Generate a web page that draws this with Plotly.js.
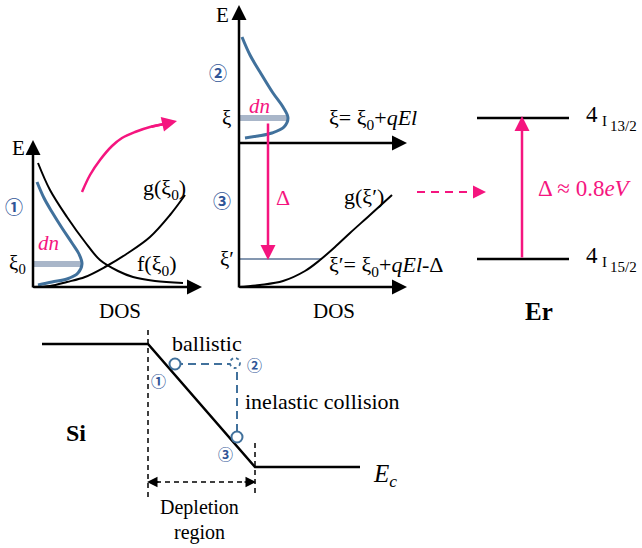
<!DOCTYPE html>
<html><head><meta charset="utf-8">
<script src="https://cdn.plot.ly/plotly-3.0.1.min.js"></script>
<style>body{margin:0;background:#fff}#c{width:642px;height:548px}</style>
</head><body><div id="c"></div>
<script>
// ---- data (diagram coordinates, pixels of a 642x548 canvas, y downward) ----
const f0X = [38, 50, 67, 85, 100, 118, 133, 155, 183];
const f0Y = [163, 190, 217, 242, 260, 271, 277, 281, 283];
const g0X = [33, 50, 67, 85, 105, 128, 150, 170, 185];
const g0Y = [287, 286, 282, 277, 267, 253, 237, 215, 195];
const dn1X = [37, 44, 52, 62, 72, 79, 82, 78, 67, 52, 38];
const dn1Y = [182, 198, 212, 228, 243, 254, 264, 273, 279, 282, 285];
const dn2X = [242, 250, 260, 273, 283, 288, 284, 272, 258, 245];
const dn2Y = [37, 55, 72, 93, 107, 118, 127, 133, 136, 138];
const gpX = [239, 260, 283, 305, 320, 335, 350, 370, 392];
const gpY = [287, 285, 281, 271, 260, 247, 233, 215, 195];
const pinkCurveX = [82, 90, 100, 112, 122, 135, 150, 165];
const pinkCurveY = [192, 175, 160, 146, 138, 132, 127, 124];
const bandX = [42, 148, 255, 360];
const bandY = [344, 344, 467, 467];
const pathX = [175, 230, null, 237, 237];
const pathY = [364, 364, null, 372, 432];
const circX = [175, 237];
const circY = [364, 437];
const levelsY = [118, 259];

const blue = '#41719c', navy = '#2f5597', pink = '#f5157f', grayBar = '#a9b6c9';
const serif = 'Liberation Serif, Times New Roman, serif';

function line(x, y, color, width, dash, shape) {
  return {x, y, mode: 'lines', type: 'scatter', hoverinfo: 'skip',
    line: {color, width, dash: dash || 'solid', shape: shape || 'linear', smoothing: 1}};
}
const traces = [
  line(f0X, f0Y, 'black', 2, null, 'spline'),
  line(g0X, g0Y, 'black', 2, null, 'spline'),
  line([33, 82], [264, 264], grayBar, 6),
  line(dn1X, dn1Y, blue, 3, null, 'spline'),
  line([239, 288], [118, 118], grayBar, 6),
  line(dn2X, dn2Y, blue, 3, null, 'spline'),
  line([239, 322], [259, 259], '#8497b0', 1.8),
  line(gpX, gpY, 'black', 2, null, 'spline'),
  line(pinkCurveX, pinkCurveY, pink, 2.5, null, 'spline'),
  line([417, 476], [192, 192], pink, 2, '8px,6px'),
  line([477, 569], [levelsY[0], levelsY[0]], 'black', 2.5),
  line([477, 569], [levelsY[1], levelsY[1]], 'black', 2.5),
  line(bandX, bandY, 'black', 2.5),
  line([148, 148], [330, 497], 'black', 1.5, '5px,4px'),
  line([255, 255], [443, 497], 'black', 1.5, '5px,4px'),
  line([156, 247], [482, 482], 'black', 1.5, '5px,4px'),
  line(pathX, pathY, blue, 2, '8px,5px'),
  {x: circX, y: circY, mode: 'markers', type: 'scatter', hoverinfo: 'skip',
   marker: {symbol: 'circle', size: 11, color: 'white', line: {color: blue, width: 2}}}
];

function arrow(x0, y0, x1, y1, color, width, size) {
  return {x: x1, y: y1, ax: x0, ay: y0, xref: 'x', yref: 'y', axref: 'x', ayref: 'y',
    showarrow: true, arrowhead: 2, arrowsize: size || 1, arrowwidth: width, arrowcolor: color,
    standoff: 0, startstandoff: 0, text: ''};
}
function txt(x, y, text, size, color, opts) {
  return Object.assign({x, y, xref: 'x', yref: 'y', text, showarrow: false,
    xanchor: 'center', yanchor: 'middle',
    font: {family: serif, size, color: color || 'black'}}, opts || {});
}
const circFont = 'Noto Sans CJK JP, DejaVu Sans, sans-serif';
function circ(x, y, ch, size) {
  return txt(x, y, ch, size, navy, {font: {family: circFont, size, color: navy, weight: 'bold'}});
}
const annotations = [
  // axes panel 1
  arrow(33, 289, 33, 140, 'black', 2.5, 1.2),
  arrow(32, 287, 202, 287, 'black', 2.5, 1.2),
  // axes panel 2
  arrow(239, 289, 239, 5, 'black', 2.5, 1.2),
  arrow(238, 143, 407, 143, 'black', 2.5, 1.2),
  arrow(238, 287, 407, 287, 'black', 2.5, 1.2),
  // pink arrows
  arrow(150, 127, 177, 121, pink, 2.5, 1.2),
  arrow(268, 122, 268, 260, pink, 2.5, 1.2),
  arrow(474, 192, 486, 192, pink, 2, 1.3),
  arrow(522, 259, 522, 116, pink, 2.5, 1.2),
  // depletion double arrow heads
  arrow(160, 482, 147, 482, 'black', 1.5, 1.4),
  arrow(243, 482, 256, 482, 'black', 1.5, 1.4),
  // texts panel 1
  txt(18, 148, 'E', 21),
  circ(14, 206, '①', 18),
  txt(17, 264, 'ξ<sub>0</sub>', 21),
  txt(48, 243, '<i>dn</i>', 21, pink),
  txt(164, 189, 'g(ξ<sub>0</sub>)', 22),
  txt(157, 265, 'f(ξ<sub>0</sub>)', 22),
  txt(120, 311, 'DOS', 21),
  // texts panel 2
  txt(222, 15, 'E', 21),
  circ(218, 72, '②', 18),
  txt(226, 118, 'ξ', 21),
  txt(259, 106, '<i>dn</i>', 21, pink),
  txt(327, 119, 'ξ= ξ<sub>0</sub>+<i>qEl</i>', 22, 'black', {xanchor: 'left'}),
  circ(222, 200, '③', 18),
  txt(283, 197, 'Δ', 22, pink),
  txt(364, 196, 'g(ξ′)', 22),
  txt(227, 259, 'ξ′', 21),
  txt(327, 266, 'ξ′= ξ<sub>0</sub>+<i>qEl</i>-Δ', 22, 'black', {xanchor: 'left'}),
  txt(334, 311, 'DOS', 21),
  // Er panel
  txt(536, 188, 'Δ ≈ 0.8<i>eV</i>', 23, pink, {xanchor: 'left'}),
  txt(592, 114, '4', 23),
  txt(604, 121, 'I', 15),
  txt(608, 126, '13/2', 15, 'black', {xanchor: 'left'}),
  txt(592, 255, '4', 23),
  txt(604, 262, 'I', 15),
  txt(608, 267, '15/2', 15, 'black', {xanchor: 'left'}),
  txt(539, 311, '<b>Er</b>', 25),
  // bottom
  txt(207, 343, 'ballistic', 22),
  circ(158, 380, '①', 15),
  circ(254, 364, '②', 15),
  circ(225, 453, '③', 15),
  txt(322, 401, 'inelastic collision', 22),
  txt(76, 433, '<b>Si</b>', 24),
  txt(385, 475, '<i>E<sub>c</sub></i>', 25),
  txt(199, 507, 'Depletion', 20),
  txt(199, 532, 'region', 20)
];
const shapes = [
  {type: 'circle', xref: 'x', yref: 'y', x0: 230, x1: 240, y0: 358, y1: 368,
   line: {color: blue, width: 1.8, dash: 'dot'}, fillcolor: 'rgba(0,0,0,0)'}
];
Plotly.newPlot('c', traces, {
  width: 642, height: 548, margin: {l: 0, r: 0, t: 0, b: 0},
  paper_bgcolor: 'white', plot_bgcolor: 'white', showlegend: false,
  xaxis: {range: [0, 642], visible: false, fixedrange: true},
  yaxis: {range: [548, 0], visible: false, fixedrange: true},
  annotations, shapes
}, {staticPlot: true});
</script></body></html>
